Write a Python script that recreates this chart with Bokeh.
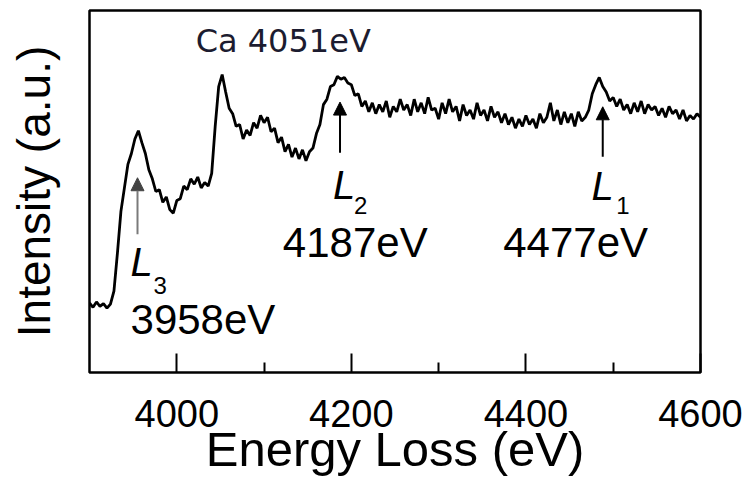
from bokeh.plotting import figure
from bokeh.models import Range1d, FixedTicker, Label, Arrow, NormalHead
from bokeh.embed import file_html
from bokeh.resources import INLINE

# ---- data ----
energy_ev = [
    3900, 3904, 3908, 3912, 3916, 3920, 3924, 3928, 3932, 3936,
    3940, 3944, 3948, 3952, 3956, 3960, 3964, 3968, 3972, 3976,
    3980, 3984, 3988, 3992, 3996, 4000, 4004, 4008, 4012, 4016,
    4020, 4024, 4028, 4032, 4036, 4040, 4044, 4048, 4052, 4056,
    4060, 4064, 4068, 4072, 4076, 4080, 4084, 4088, 4092, 4096,
    4100, 4104, 4108, 4112, 4116, 4120, 4124, 4128, 4132, 4136,
    4140, 4144, 4148, 4152, 4156, 4160, 4164, 4168, 4172, 4176,
    4180, 4184, 4188, 4192, 4196, 4200, 4204, 4208, 4212, 4216,
    4220, 4224, 4228, 4232, 4236, 4240, 4244, 4248, 4252, 4256,
    4260, 4264, 4268, 4272, 4276, 4280, 4284, 4288, 4292, 4296,
    4300, 4304, 4308, 4312, 4316, 4320, 4324, 4328, 4332, 4336,
    4340, 4344, 4348, 4352, 4356, 4360, 4364, 4368, 4372, 4376,
    4380, 4384, 4388, 4392, 4396, 4400, 4404, 4408, 4412, 4416,
    4420, 4424, 4428, 4432, 4436, 4440, 4444, 4448, 4452, 4456,
    4460, 4464, 4468, 4472, 4476, 4480, 4484, 4488, 4492, 4496,
    4500, 4504, 4508, 4512, 4516, 4520, 4524, 4528, 4532, 4536,
    4540, 4544, 4548, 4552, 4556, 4560, 4564, 4568, 4572, 4576,
    4580, 4584, 4588, 4592, 4596, 4600,
]
intensity = [
    19.2, 18.0, 19.5, 18.3, 19.0, 17.8, 18.9, 22.5, 33.0, 44.5,
    51.0, 57.5, 60.5, 64.5, 66.8, 63.5, 60.5, 56.0, 53.5, 50.0,
    50.5, 47.0, 48.5, 45.0, 44.0, 47.5, 48.0, 51.5, 50.5, 53.5,
    52.0, 54.0, 51.0, 52.5, 51.5, 55.0, 68.0, 79.0, 82.3, 77.5,
    73.0, 71.5, 68.0, 68.5, 64.5, 67.0, 65.5, 69.0, 67.5, 71.0,
    69.0, 70.5, 66.5, 67.5, 63.5, 65.0, 61.0, 63.0, 59.5, 62.0,
    59.0, 61.5, 58.5, 61.0, 62.0, 66.0, 68.5, 74.0, 75.5, 79.0,
    79.5, 81.8, 81.0, 81.5, 80.0, 79.5, 76.5, 77.0, 73.5, 75.0,
    72.0, 74.5, 71.5, 74.0, 72.0, 75.0, 70.5, 73.5, 72.0, 75.5,
    72.5, 74.0, 71.0, 75.5, 72.0, 74.5, 71.5, 76.0, 72.5, 73.0,
    70.0, 74.5, 71.5, 75.5, 72.0, 73.5, 69.5, 74.0, 71.0, 72.5,
    70.0, 74.5, 71.0, 72.5, 69.5, 73.5, 70.5, 72.0, 69.0, 71.5,
    68.5, 70.5, 67.5, 70.0, 68.0, 71.0, 68.5, 70.0, 67.5, 71.5,
    69.0, 70.5, 74.5, 69.5, 72.5, 68.5, 72.0, 69.0, 71.5, 68.0,
    72.0, 69.5, 70.5, 72.5, 77.0, 79.5, 81.5, 79.0, 77.5, 75.0,
    76.0, 73.5, 75.5, 72.5, 74.0, 71.5, 74.5, 72.0, 75.0, 71.5,
    74.0, 72.5, 73.5, 71.0, 73.0, 70.5, 73.5, 71.5, 72.5, 70.0,
    72.5, 69.5, 71.0, 70.0, 71.5, 70.5,
]
x_ticks = [4000, 4200, 4400, 4600]
x_minor_ticks = [4100, 4300, 4500]

# edge annotations: energy of the edge, arrow tail / tip intensity
edge_energy = [3955, 4187, 4488]
edge_tail = [38.2, 60.7, 59.6]
edge_tip = [53.8, 74.7, 73.4]
edge_names = ["L", "L", "L"]
edge_subs = ["3", "2", "1"]
edge_values = ["3958eV", "4187eV", "4477eV"]

p = figure(width=746, height=478, output_backend="svg", toolbar_location=None,
           x_range=Range1d(3900, 4600), y_range=Range1d(0, 100),
           min_border_left=89, min_border_right=46, min_border_top=10,
           min_border_bottom=105)
p.background_fill_color = "white"
p.border_fill_color = "white"
p.grid.visible = False
p.outline_line_color = "black"
p.outline_line_width = 2.5

p.line(energy_ev, intensity, line_color="black", line_width=2.8)

FONT = "Liberation Sans"

xa = p.xaxis[0]
xa.ticker = FixedTicker(ticks=x_ticks, minor_ticks=x_minor_ticks)
xa.axis_line_color = None
xa.major_tick_in = 19
xa.major_tick_out = 0
xa.minor_tick_in = 10
xa.minor_tick_out = 0
xa.major_tick_line_width = 2
xa.minor_tick_line_width = 2
xa.major_label_text_font = FONT
xa.major_label_text_font_size = "38px"
xa.major_label_text_color = "black"
xa.major_label_standoff = 27
xa.axis_label = "Energy Loss (eV)"
xa.axis_label_text_font = FONT
xa.axis_label_text_font_size = "49px"
xa.axis_label_text_font_style = "normal"
xa.axis_label_text_color = "black"
xa.axis_label_standoff = -8

ya = p.yaxis[0]
ya.ticker = FixedTicker(ticks=[])
ya.axis_line_color = None
ya.major_tick_in = 0
ya.major_tick_out = 0
ya.minor_tick_in = 0
ya.minor_tick_out = 0
ya.axis_label = "Intensity (a.u.)"
ya.axis_label_text_font = FONT
ya.axis_label_text_font_size = "46px"
ya.axis_label_text_font_style = "normal"
ya.axis_label_text_color = "black"
ya.axis_label_standoff = 30

p.add_layout(Label(x=4021.6, y=91.6, text="Ca 4051eV", text_align="left",
                   text_baseline="middle", text_font="DejaVu Sans",
                   text_font_size="32px", text_color="#1c1c30"))

# arrows
arrow_cols = ["#7a7a7a", "black", "black"]
head_cols = ["#444444", "black", "black"]
for e, t0, t1, lc, hc in zip(edge_energy, edge_tail, edge_tip, arrow_cols, head_cols):
    p.add_layout(Arrow(x_start=e, y_start=t0, x_end=e, y_end=t1,
                       line_color=lc, line_width=2,
                       end=NormalHead(size=13, fill_color=hc, line_color=hc, line_width=1)))

# edge labels (vertical centre of the glyphs)
L_pos = [(3947, 30.5), (4178.9, 51.9), (4475, 51.4)]
sub_pos = [(3973.4, 24.1), (4203, 46.2), (4503.6, 46.1)]
val_pos = [(3947, 14.7), (4121.5, 35.9), (4374, 35.9)]
for name, sub, val, lp, sp, vp in zip(edge_names, edge_subs, edge_values, L_pos, sub_pos, val_pos):
    p.add_layout(Label(x=lp[0], y=lp[1], text=name, text_align="left",
                       text_baseline="middle", text_font=FONT,
                       text_font_size="40px", text_font_style="italic",
                       text_color="black"))
    p.add_layout(Label(x=sp[0], y=sp[1], text=sub, text_align="left",
                       text_baseline="middle", text_font=FONT,
                       text_font_size="24px", text_color="black"))
    p.add_layout(Label(x=vp[0], y=vp[1], text=val, text_align="left",
                       text_baseline="middle", text_font=FONT,
                       text_font_size="42px", text_color="black"))

open("out.html", "w").write(file_html(p, INLINE))
